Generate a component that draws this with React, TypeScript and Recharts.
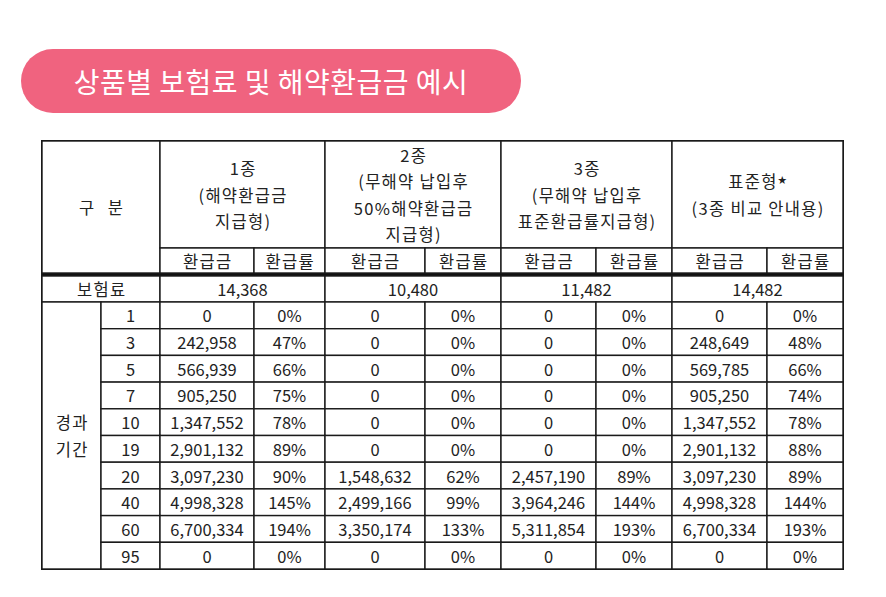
import { ScatterChart, Scatter, XAxis, YAxis, ReferenceLine, ReferenceArea } from "recharts";

// table content
const years = [1, 3, 5, 7, 10, 19, 20, 40, 60, 95];
const premiums = [14368, 10480, 11482, 14482];
const productLabels = [
  ["1종", "(해약환급금", "지급형)"],
  ["2종", "(무해약 납입후", "50%해약환급금", "지급형)"],
  ["3종", "(무해약 납입후", "표준환급률지급형)"],
  ["표준형★", "(3종 비교 안내용)"],
];
const subLabels = ["환급금", "환급률"];
const type1Amount = [0, 242958, 566939, 905250, 1347552, 2901132, 3097230, 4998328, 6700334, 0];
const type1Rate = [0, 47, 66, 75, 78, 89, 90, 145, 194, 0];
const type2Amount = [0, 0, 0, 0, 0, 0, 1548632, 2499166, 3350174, 0];
const type2Rate = [0, 0, 0, 0, 0, 0, 62, 99, 133, 0];
const type3Amount = [0, 0, 0, 0, 0, 0, 2457190, 3964246, 5311854, 0];
const type3Rate = [0, 0, 0, 0, 0, 0, 89, 144, 193, 0];
const stdAmount = [0, 248649, 569785, 905250, 1347552, 2901132, 3097230, 4998328, 6700334, 0];
const stdRate = [0, 48, 66, 74, 78, 88, 89, 144, 193, 0];

const amounts = [type1Amount, type2Amount, type3Amount, stdAmount];
const rates = [type1Rate, type2Rate, type3Rate, stdRate];

// layout (page pixels)
const W = 886;
const H = 597;
const COLS = [42, 101, 160, 254, 325, 425, 501, 596, 672, 767, 843];
const HEAD_TOP = 141;
const HEAD_BOT = 248;
const SUB_BOT = 273;
const PREM_TOP = 276;
const DATA_TOP = 302;
const TABLE_BOT = 569;
const ROW_H = (TABLE_BOT - DATA_TOP) / years.length;
const LINE_H = 26.5;
const FONT = "'Noto Sans CJK KR', 'Noto Sans', sans-serif";
const HANGUL = /[\uac00-\ud7a3]/;

type Cell = { x: number; y: number; w: number; h: number; lines: string[] };

const fmt = (n: number) => n.toLocaleString("en-US");

function buildCells(): Cell[] {
  const cells: Cell[] = [];
  const add = (x0: number, x1: number, y0: number, y1: number, lines: string[]) =>
    cells.push({ x: (x0 + x1) / 2, y: (y0 + y1) / 2, w: x1 - x0, h: y1 - y0, lines });

  add(COLS[0], COLS[2], HEAD_TOP, SUB_BOT, ["구 분"]);
  productLabels.forEach((lbl, i) => {
    const a = COLS[2 + i * 2];
    const b = COLS[4 + i * 2];
    add(a, b, HEAD_TOP, HEAD_BOT, lbl);
    subLabels.forEach((s, j) => add(COLS[2 + i * 2 + j], COLS[3 + i * 2 + j], HEAD_BOT, SUB_BOT, [s]));
  });
  add(COLS[0], COLS[2], PREM_TOP, DATA_TOP, ["보험료"]);
  premiums.forEach((p, i) => add(COLS[2 + i * 2], COLS[4 + i * 2], PREM_TOP, DATA_TOP, [fmt(p)]));
  add(COLS[0], COLS[1], DATA_TOP, TABLE_BOT, ["경과", "기간"]);
  years.forEach((yr, r) => {
    const y0 = DATA_TOP + r * ROW_H;
    const y1 = y0 + ROW_H;
    add(COLS[1], COLS[2], y0, y1, [String(yr)]);
    amounts.forEach((arr, i) => {
      add(COLS[2 + i * 2], COLS[3 + i * 2], y0, y1, [fmt(arr[r])]);
      add(COLS[3 + i * 2], COLS[4 + i * 2], y0, y1, [rates[i][r] + "%"]);
    });
  });
  return cells;
}

const cells = buildCells();

function CellShape(props: any) {
  const { cx, cy, payload } = props;
  const { w, h, lines } = payload as Cell;
  const start = cy - ((lines.length - 1) * LINE_H) / 2;
  return (
    <g>
      <rect x={cx - w / 2} y={cy - h / 2} width={w} height={h} fill="#fff" stroke="#1a1a1a" strokeWidth={1.4} />
      {lines.map((ln, k) => {
        const star = ln.endsWith("★");
        const spacing = ln === "구 분" ? 5 : HANGUL.test(ln) ? 1.3 : 0;
        return (
          <text
            key={k}
            x={cx + spacing / 2}
            y={start + k * LINE_H}
            textAnchor="middle"
            dominantBaseline="central"
            fontFamily={FONT}
            fontSize={16.5}
            letterSpacing={spacing}
            fill="#222"
          >
            {star ? ln.slice(0, -1) : ln}
            {star && (
              <tspan fontSize={9} dy={-2}>
                ★
              </tspan>
            )}
          </text>
        );
      })}
    </g>
  );
}

export default function App() {
  return (
    <div style={{ position: "absolute", left: 0, top: 0, width: W, height: H, background: "#fff" }}>
      <div
        style={{
          position: "absolute",
          left: 21,
          top: 49,
          width: 500,
          height: 64,
          borderRadius: 32,
          background: "#f0637f",
          color: "#fff",
          fontFamily: FONT,
          fontSize: 28,
          fontWeight: 400,
          letterSpacing: 0.5,
          display: "flex",
          alignItems: "center",
          justifyContent: "center",
        }}
      >
        상품별 보험료 및 해약환급금 예시
      </div>

      <ScatterChart width={W} height={H} margin={{ top: 0, right: 0, bottom: 0, left: 0 }}>
        <XAxis type="number" dataKey="x" domain={[0, W]} hide />
        <YAxis type="number" dataKey="y" domain={[0, H]} reversed hide />
        <Scatter data={cells} shape={CellShape} isAnimationActive={false} />
        <ReferenceLine
          segment={[
            { x: COLS[0], y: (SUB_BOT + PREM_TOP) / 2 },
            { x: COLS[COLS.length - 1], y: (SUB_BOT + PREM_TOP) / 2 },
          ]}
          stroke="#111"
          strokeWidth={3}
        />
        <ReferenceArea
          x1={COLS[0]}
          x2={COLS[COLS.length - 1]}
          y1={HEAD_TOP}
          y2={TABLE_BOT}
          fill="none"
          fillOpacity={0}
          stroke="#1a1a1a"
          strokeWidth={2}
        />
      </ScatterChart>
    </div>
  );
}
